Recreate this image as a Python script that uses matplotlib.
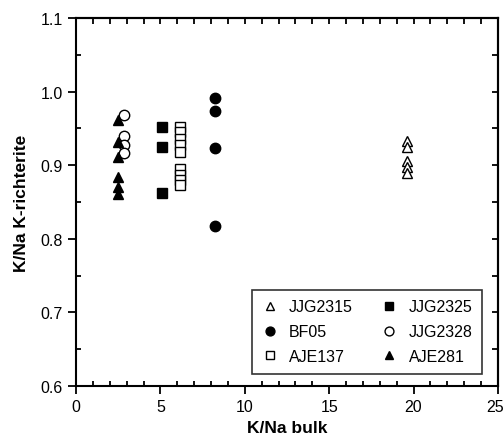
import matplotlib
matplotlib.use("Agg")
import matplotlib.pyplot as plt
from matplotlib.ticker import MultipleLocator, FormatStrFormatter, FuncFormatter

plt.rcParams['font.family'] = ['Liberation Sans', 'DejaVu Sans']

# K/Na bulk vs K/Na in K-richterite, per sample
jjg2315_x = [19.6, 19.6, 19.6, 19.6, 19.6]
jjg2315_y = [0.933, 0.925, 0.906, 0.897, 0.889]

bf05_x = [8.25, 8.25, 8.25, 8.25]
bf05_y = [0.991, 0.973, 0.923, 0.818]

aje137_x = [6.15] * 9
aje137_y = [0.952, 0.945, 0.935, 0.927, 0.918, 0.895, 0.886, 0.880, 0.873]

jjg2325_x = [5.1, 5.1, 5.1]
jjg2325_y = [0.952, 0.925, 0.862]

jjg2328_x = [2.85, 2.85, 2.85, 2.85]
jjg2328_y = [0.968, 0.940, 0.928, 0.916]

aje281_x = [2.5] * 6
aje281_y = [0.961, 0.932, 0.911, 0.884, 0.871, 0.861]

x_max = 25

fig = plt.figure(figsize=(5.04, 4.39), dpi=100)
ax = fig.add_axes([0.1508, 0.1185, 0.8372, 0.8382])

ms = 7.5
ax.plot(jjg2315_x, jjg2315_y, ls='none', marker='^', ms=ms, mfc='white', mec='black', mew=1.0, label='JJG2315')
ax.plot(bf05_x, bf05_y, ls='none', marker='o', ms=ms, mfc='black', mec='black', label='BF05')
ax.plot(aje137_x, aje137_y, ls='none', marker='s', ms=ms, mfc='white', mec='black', mew=1.0, label='AJE137')
ax.plot(jjg2325_x, jjg2325_y, ls='none', marker='s', ms=ms, mfc='black', mec='black', label='JJG2325')
ax.plot(jjg2328_x, jjg2328_y, ls='none', marker='o', ms=ms, mfc='white', mec='black', mew=1.0, label='JJG2328')
ax.plot(aje281_x, aje281_y, ls='none', marker='^', ms=ms, mfc='black', mec='black', label='AJE281')

ax.set_xlim(0, x_max)
ax.set_ylim(0.6, 1.1)
ax.xaxis.set_major_locator(MultipleLocator(5))
ax.xaxis.set_minor_locator(MultipleLocator(1))
ax.yaxis.set_major_locator(MultipleLocator(0.1))
ax.yaxis.set_minor_locator(MultipleLocator(0.05))
ax.yaxis.set_major_formatter(FormatStrFormatter('%.1f'))
# the label at the right end is drawn separately so it stays on the canvas
ax.xaxis.set_major_formatter(FuncFormatter(lambda v, p: '' if v >= x_max else f'{v:g}'))

for s in ax.spines.values():
    s.set_linewidth(1.5)

ax.tick_params(axis='both', which='major', direction='out', length=6, width=1.3,
               labelsize=11.5, top=False, right=False)
ax.tick_params(axis='both', which='minor', direction='in', length=3.5, width=1.3,
               top=False, right=False)

ax.annotate(f'{x_max:g}', xy=(x_max, 0), xycoords=('data', 'axes fraction'),
            xytext=(4.5, -9.5), textcoords='offset points', ha='right', va='top',
            fontsize=11.5)

# inward ticks on the top and right edges
ax_t = ax.secondary_xaxis('top')
ax_t.xaxis.set_major_locator(MultipleLocator(1))
ax_t.tick_params(direction='in', length=4, width=1.3, labeltop=False)
ax_t.spines['top'].set_linewidth(1.5)
ax_r = ax.secondary_yaxis('right')
ax_r.yaxis.set_major_locator(MultipleLocator(0.05))
ax_r.tick_params(direction='in', length=4, width=1.3, labelright=False)
ax_r.spines['right'].set_linewidth(1.5)

ax.set_xlabel('K/Na bulk', fontsize=12.5, fontweight='bold', labelpad=4)
ax.set_ylabel('K/Na K-richterite', fontsize=12.5, fontweight='bold', labelpad=8)

leg = ax.legend(ncol=2, loc='lower right', bbox_to_anchor=(0.981, 0.012),
                fontsize=11.5, frameon=True, fancybox=False, markerscale=0.85,
                handlelength=1.0, handletextpad=0.7, columnspacing=1.8,
                borderpad=0.6, labelspacing=0.62, edgecolor='black')
leg.get_frame().set_linewidth(1.2)

fig.savefig('out.png', dpi=100)
